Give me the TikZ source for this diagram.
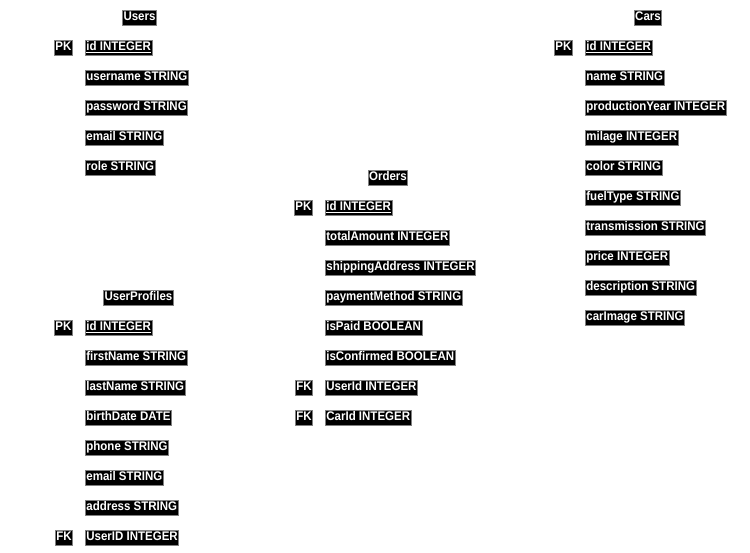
\documentclass[tikz,border=0pt]{standalone}
\usepackage{fontspec}
\setmainfont{Liberation Sans}
\newfontfamily\cellfont[FakeStretch=0.92]{Liberation Sans}
\begin{document}
\begin{tikzpicture}[x=1pt,y=-1pt,
  cell/.style={draw=black!50, line width=0.8pt, fill=black, text=white,
    font=\cellfont\bfseries\fontsize{12.5}{13}\selectfont,
    inner xsep=1pt, inner ysep=1.4pt, text height=9.4pt, text depth=2.7pt},
  field/.style={cell, anchor=west},
  keytag/.style={cell, anchor=west},
  tabletitle/.style={cell}]
\useasboundingbox (0,0) rectangle (750,552);

% Users
\node[tabletitle] (users) at (139.5,17.5) {Users};
\node[keytag] (users-pk) at (54,47.5) {PK};
\node[field] (users-id) at (85,47.5) {\underline{id INTEGER}};
\node[field] (users-username) at (85,77.5) {username STRING};
\node[field] (users-password) at (85,107.5) {password STRING};
\node[field] (users-email) at (85,137.5) {email STRING};
\node[field] (users-role) at (85,167.5) {role STRING};

% UserProfiles
\node[tabletitle] (profiles) at (138.5,297.5) {UserProfiles};
\node[keytag] (profiles-pk) at (54,327.5) {PK};
\node[field] (profiles-id) at (85,327.5) {\underline{id INTEGER}};
\node[field] (profiles-first) at (85,357.5) {firstName STRING};
\node[field] (profiles-last) at (85,387.5) {lastName STRING};
\node[field] (profiles-birth) at (85,417.5) {birthDate DATE};
\node[field] (profiles-phone) at (85,447.5) {phone STRING};
\node[field] (profiles-email) at (85,477.5) {email STRING};
\node[field] (profiles-address) at (85,507.5) {address STRING};
\node[keytag] (profiles-fk) at (55,537.5) {FK};
\node[field] (profiles-user) at (85,537.5) {UserID INTEGER};

% Orders
\node[tabletitle] (orders) at (388,177.5) {Orders};
\node[keytag] (orders-pk) at (294,207.5) {PK};
\node[field] (orders-id) at (325,207.5) {\underline{id INTEGER}};
\node[field] (orders-total) at (325,237.5) {totalAmount INTEGER};
\node[field] (orders-shipping) at (325,267.5) {shippingAddress INTEGER};
\node[field] (orders-payment) at (325,297.5) {paymentMethod STRING};
\node[field] (orders-paid) at (325,327.5) {isPaid BOOLEAN};
\node[field] (orders-confirmed) at (325,357.5) {isConfirmed BOOLEAN};
\node[keytag] (orders-fk1) at (295,387.5) {FK};
\node[field] (orders-user) at (325,387.5) {UserId INTEGER};
\node[keytag] (orders-fk2) at (295,417.5) {FK};
\node[field] (orders-car) at (325,417.5) {CarId INTEGER};

% Cars
\node[tabletitle] (cars) at (648,17.5) {Cars};
\node[keytag] (cars-pk) at (554,47.5) {PK};
\node[field] (cars-id) at (585,47.5) {\underline{id INTEGER}};
\node[field] (cars-name) at (585,77.5) {name STRING};
\node[field] (cars-year) at (585,107.5) {productionYear INTEGER};
\node[field] (cars-milage) at (585,137.5) {milage INTEGER};
\node[field] (cars-color) at (585,167.5) {color STRING};
\node[field] (cars-fuel) at (585,197.5) {fuelType STRING};
\node[field] (cars-trans) at (585,227.5) {transmission STRING};
\node[field] (cars-price) at (585,257.5) {price INTEGER};
\node[field] (cars-desc) at (585,287.5) {description STRING};
\node[field] (cars-image) at (585,317.5) {carImage STRING};
\end{tikzpicture}
\end{document}
